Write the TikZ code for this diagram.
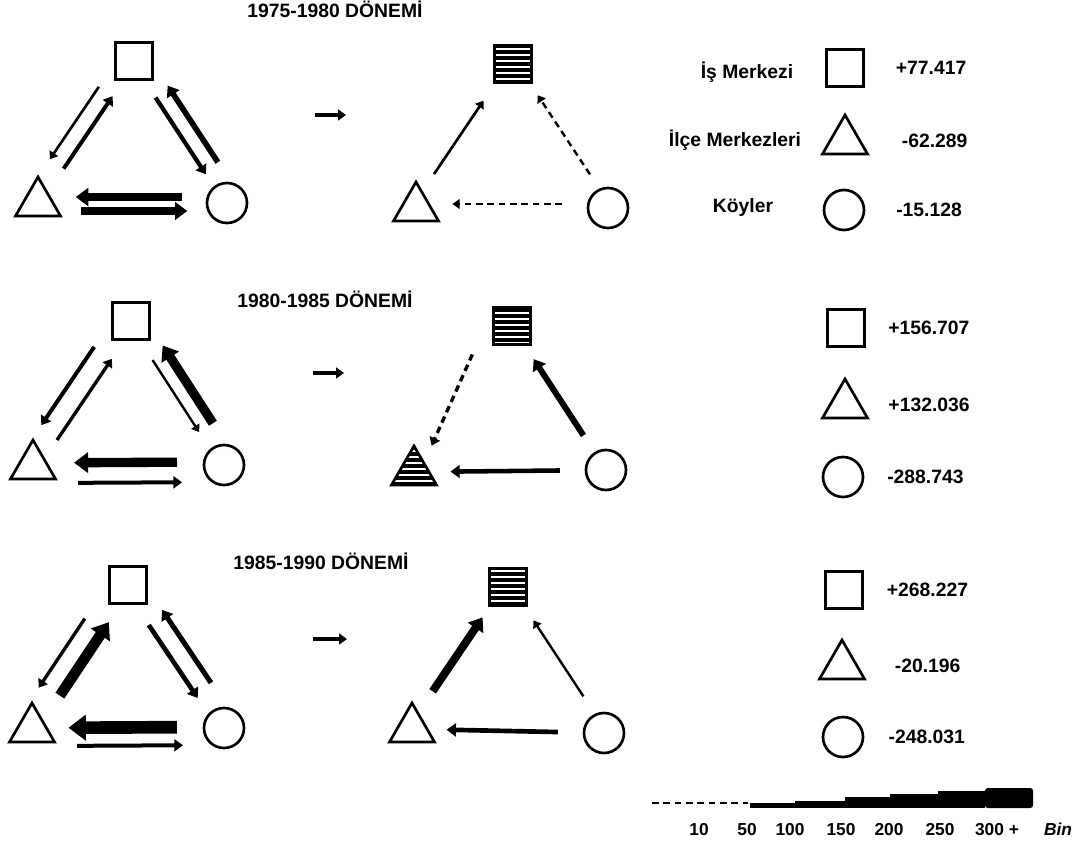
\documentclass[tikz,border=0pt]{standalone}
\usepackage{fontspec}
\setmainfont{Liberation Sans}
\usetikzlibrary{positioning,calc,arrows.meta,shapes.geometric,patterns.meta}

\tikzset{
  kare/.style={draw, line width=2pt, minimum size=28pt, inner sep=0pt},
  ucgen/.style={draw, regular polygon, regular polygon sides=3, minimum size=39pt, inner sep=0pt, line width=2pt},
  daire/.style={draw, circle, minimum size=30pt, inner sep=0pt, line width=2pt},
  tarali/.style={preaction={fill=black}, pattern={Lines[distance=4.5pt,line width=1.3pt]}, pattern color=white},
  akim/.style={-{Triangle[length=3.5pt 1.0,width=4.5pt 1.5]}},
  kesik/.style={dash pattern=on 5pt off 3.5pt},
  yazi/.style={font=\bfseries\fontsize{14.5}{17}\selectfont, inner sep=0pt},
  olcek/.style={font=\bfseries\fontsize{13}{15}\selectfont, inner sep=0pt, anchor=base}
}

% arrow parallel to the line between two nodes: [opts]{from}{to}{t tail}{offset}{t head}
\newcommand{\akim}[6][]{%
  \draw[akim,#1] ($(#2)!#4!(#3)!#5!90:(#3)$) -- ($(#2)!#6!(#3)!#5!90:(#3)$);}

\begin{document}
\begin{tikzpicture}[x=0.75pt,y=-0.75pt,node distance=20pt]
  \clip (0,0) rectangle (1074,841);

  % 1975-1980
  \node[yazi, anchor=base] (baslik1) at (335,18) {1975-1980 DÖNEMİ};
  \node[kare] (k1) at (134,61) {};
  \node[ucgen] (u1) at (38,203) {};
  \node[daire] (d1) at (227,203) {};
  \akim[line width=2pt]{k1}{u1}{0.24}{-11pt}{0.75}
  \akim[line width=3pt]{k1}{u1}{0.75}{1.5pt}{0.24}
  \akim[line width=3.2pt]{k1}{d1}{0.25}{-1.5pt}{0.79}
  \akim[line width=4.2pt]{k1}{d1}{0.77}{11pt}{0.23}
  \akim[line width=6pt]{u1}{d1}{0.76}{4.5pt}{0.2}
  \akim[line width=5.6pt]{u1}{d1}{0.23}{-6pt}{0.79}

  \coordinate (ok1a) at (315,115);
  \coordinate (ok1b) at (346,115);
  \draw[akim, line width=2.4pt] (ok1a) -- (ok1b);

  \node[kare, tarali] (k1b) at (513,64) {};
  \node[ucgen] (u1b) at (416,208) {};
  \node[daire] (d1b) at (608,208) {};
  \akim[line width=2pt]{k1b}{u1b}{0.78}{-3pt}{0.27}
  \akim[line width=1.8pt, kesik]{k1b}{d1b}{0.78}{2.6pt}{0.23}
  \akim[line width=1.8pt, kesik]{u1b}{d1b}{0.76}{3pt}{0.19}

  \node[yazi, anchor=base] (ad1) at (747,79) {İş Merkezi};
  \node[yazi, anchor=base] (ad2) at (735,147) {İlçe Merkezleri};
  \node[yazi, anchor=base] (ad3) at (743,213) {Köyler};
  \node[kare] (lk1) at (845,68) {};
  \node[ucgen] (lu1) at (845,141) {};
  \node[daire] (ld1) at (844,210) {};
  \node[yazi, right=23pt of lk1] (lv1) {+77.417};
  \node[yazi, right=30pt of lu1] (lv2) {-62.289};
  \node[yazi, right=23pt of ld1] (lv3) {-15.128};

  % 1980-1985
  \node[yazi, anchor=base] (baslik2) at (325,308) {1980-1985 DÖNEMİ};
  \node[kare] (k2) at (131,321) {};
  \node[ucgen] (u2) at (33,466) {};
  \node[daire] (d2) at (224,465) {};
  \akim[line width=3pt]{k2}{u2}{0.24}{-12pt}{0.78}
  \akim[line width=2.5pt]{k2}{u2}{0.80}{4pt}{0.24}
  \akim[line width=1.8pt]{k2}{d2}{0.26}{-2.3pt}{0.76}
  \akim[line width=7pt]{k2}{d2}{0.76}{10pt}{0.22}
  \akim[line width=7pt]{u2}{d2}{0.754}{2.3pt}{0.215}
  \akim[line width=3pt]{u2}{d2}{0.236}{-12.8pt}{0.78}

  \coordinate (ok2a) at (313,373);
  \coordinate (ok2b) at (344,373);
  \draw[akim, line width=2.4pt] (ok2a) -- (ok2b);

  \node[kare, tarali] (k2b) at (512,326) {};
  \node[ucgen, tarali] (u2b) at (414,472) {};
  \node[daire] (d2b) at (606,470) {};
  \draw[akim, line width=2.5pt, kesik] ($(k2b)!0.26!(u2b)!-12.8pt!90:(u2b)$) -- ($(k2b)!0.82!(u2b)$);
  \akim[line width=4.5pt]{k2b}{d2b}{0.76}{0pt}{0.23}
  \akim[line width=3.4pt]{u2b}{d2b}{0.76}{0pt}{0.19}

  \node[kare] (lk2) at (846,328) {};
  \node[ucgen] (lu2) at (845,405) {};
  \node[daire] (ld2) at (843,477) {};
  \node[yazi, right=16.5pt of lk2] (lv4) {+156.707};
  \node[yazi, right=20pt of lu2] (lv5) {+132.036};
  \node[yazi, right=17pt of ld2] (lv6) {-288.743};

  % 1985-1990
  \node[yazi, anchor=base] (baslik3) at (321,569) {1985-1990 DÖNEMİ};
  \node[kare] (k3) at (128,585) {};
  \node[ucgen] (u3) at (32,729) {};
  \node[daire] (d3) at (224,728) {};
  \akim[line width=2.5pt]{k3}{u3}{0.30}{-13pt}{0.78}
  \akim[line width=8pt]{k3}{u3}{0.75}{3.5pt}{0.24}
  \akim[line width=3.5pt]{k3}{d3}{0.26}{-3.8pt}{0.77}
  \akim[line width=3.8pt]{k3}{d3}{0.74}{10.8pt}{0.23}
  \akim[line width=9.5pt]{u3}{d3}{0.755}{0.8pt}{0.19}
  \akim[line width=3pt]{u3}{d3}{0.234}{-12.8pt}{0.786}

  \coordinate (ok3a) at (313,639);
  \coordinate (ok3b) at (347,639);
  \draw[akim, line width=2.4pt] (ok3a) -- (ok3b);

  \node[kare, tarali] (k3b) at (508,587) {};
  \node[ucgen] (u3b) at (412,729) {};
  \node[daire] (d3b) at (604,733) {};
  \akim[line width=6pt]{k3b}{u3b}{0.75}{-3pt}{0.23}
  \akim[line width=1.8pt]{k3b}{d3b}{0.76}{2.2pt}{0.24}
  \akim[line width=3.5pt]{u3b}{d3b}{0.76}{0pt}{0.18}

  \node[kare] (lk3) at (844,590) {};
  \node[ucgen] (lu3) at (842,666) {};
  \node[daire] (ld3) at (843,737) {};
  \node[yazi, right=17pt of lk3] (lv7) {+268.227};
  \node[yazi, right=27pt of lu3] (lv8) {-20.196};
  \node[yazi, right=18pt of ld3] (lv9) {-248.031};

  % olcek
  \draw[line width=1.2pt, kesik] (652,803) -- (748,803);
  \fill (750,808) rectangle (795,802.5);
  \fill (795,808) rectangle (845,801);
  \fill (845,808) rectangle (890,797);
  \fill (890,808) rectangle (938,794);
  \fill (938,808) rectangle (985,791);
  \fill[rounded corners=2pt] (985,808) rectangle (1033,788);
  \node[olcek] (o10) at (699,835) {10};
  \node[olcek] (o50) at (747,835) {50};
  \node[olcek] (o100) at (790,835) {100};
  \node[olcek] (o150) at (841,835) {150};
  \node[olcek] (o200) at (889,835) {200};
  \node[olcek] (o250) at (940,835) {250};
  \node[olcek] (o300) at (997,835) {300 +};
  \node[olcek, font=\bfseries\itshape\fontsize{13}{15}\selectfont] (obin) at (1058,835) {Bin};
\end{tikzpicture}
\end{document}
